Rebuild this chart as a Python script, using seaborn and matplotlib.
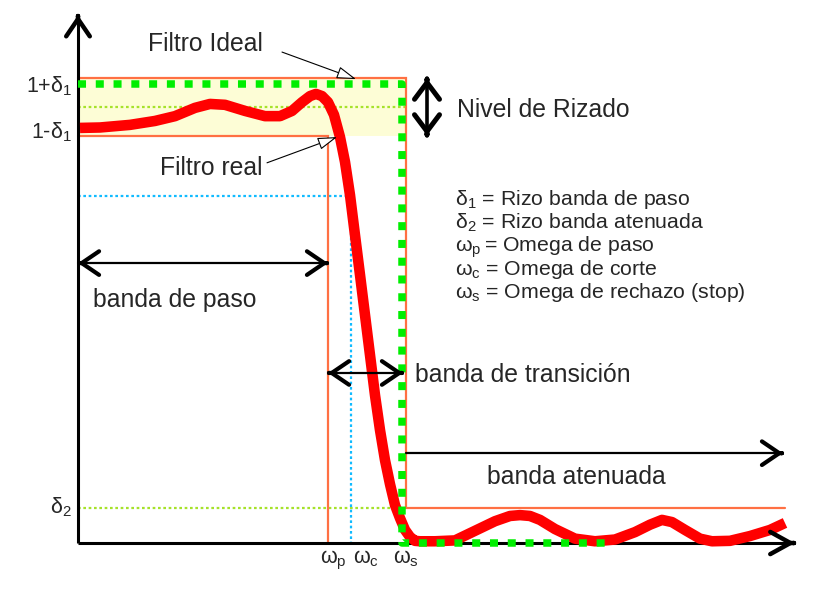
import matplotlib
matplotlib.use("Agg")
import matplotlib.pyplot as plt
import seaborn as sns
import pandas as pd

# ---------------- data (frequency in arbitrary units, magnitude normalised) ----------------
omega_real = [0.02, 0.22, 0.52, 0.77, 0.97, 1.17, 1.32, 1.47, 1.67, 1.87, 2.02, 2.14, 2.24,
              2.32, 2.38, 2.44, 2.50, 2.56, 2.62, 2.67, 2.72, 2.77, 2.82, 2.87, 2.92, 2.97,
              3.02, 3.07, 3.12, 3.17, 3.22, 3.27, 3.32, 3.37, 3.42, 3.57, 3.77, 3.97, 4.17,
              4.32, 4.42, 4.52, 4.62, 4.77, 4.97, 5.17, 5.37, 5.57, 5.72, 5.84, 5.94, 6.07,
              6.22, 6.34, 6.52, 6.72, 6.92, 7.07]
mag_real = [0.952, 0.953, 0.959, 0.968, 0.979, 0.998, 1.007, 1.005, 0.991, 0.979, 0.979, 0.991,
            1.011, 1.025, 1.030, 1.025, 1.011, 0.982, 0.931, 0.874, 0.798, 0.706, 0.615, 0.523,
            0.431, 0.339, 0.259, 0.190, 0.135, 0.087, 0.057, 0.030, 0.014, 0.005, 0.004, 0.004,
            0.006, 0.028, 0.050, 0.062, 0.064, 0.062, 0.053, 0.032, 0.010, 0.004, 0.008, 0.025,
            0.042, 0.053, 0.048, 0.030, 0.010, 0.004, 0.005, 0.016, 0.030, 0.046]

ideal_freq = [0.0, 3.235, 3.235, 5.29]
ideal_mag = [1.052, 1.052, 0.0, 0.0]

delta1 = 0.0655
delta2 = 0.080
omega_p = 2.50
omega_c = 2.73
omega_s = 3.28
mag_c = 0.796
freq_end = 7.17
mag_end = 1.211
stop_end = 7.07
ripple_x = 3.49

pass_arrow_y = 0.642
trans_arrow_y = 0.390
stop_arrow_y = 0.206

band_labels = ["banda de paso", "banda de transición", "banda atenuada"]
legend_lines = [r"$\delta_1$ = Rizo banda de paso",
                r"$\delta_2$ = Rizo banda atenuada",
                r"$\omega_p\,$= Omega de paso",
                r"$\omega_c$ = Omega de corte",
                r"$\omega_s$ = Omega de rechazo (stop)"]
y_labels = [r"1+$\delta_1$", r"1-$\delta_1$", r"$\delta_2$"]
x_labels = [r"$\omega_p$", r"$\omega_c$", r"$\omega_s$"]

# ---------------- style ----------------
sns.set_theme(style="white")
plt.rcParams["font.family"] = ["Liberation Sans", "DejaVu Sans"]
plt.rcParams["mathtext.default"] = "regular"

ORANGE = "#ff7043"
GREEN = "#00ee00"
LIME = "#a6e22a"
CYAN = "#11bbff"
BAND = "#fdfdd6"

fig = plt.figure(figsize=(8.2, 6.0), dpi=100)
ax = fig.add_axes([0, 0, 1, 1])
ax.set_xlim(-0.78, 7.42)
ax.set_ylim(-0.1307, 1.2454)
ax.axis("off")

up1 = 1 + delta1
lo1 = 1 - delta1

# ripple band
ax.fill_between([0, omega_s], [lo1, lo1], [up1, up1], color=BAND, lw=0, zorder=1)

# dotted reference lines
ax.plot([0, omega_s], [1.0, 1.0], color=LIME, lw=1.6, dashes=(1.2, 1.2), zorder=2)
ax.plot([0, omega_s], [delta2, delta2], color=LIME, lw=1.6, dashes=(1.2, 1.2), zorder=2)
ax.plot([0, omega_c, omega_c], [mag_c, mag_c, 0], color=CYAN, lw=1.6, dashes=(1.2, 1.2), zorder=2)

# tolerance template (orange)
ax.plot([0, omega_s, omega_s, stop_end], [up1, up1, delta2, delta2], color=ORANGE, lw=1.6,
        zorder=3, solid_joinstyle="miter")
ax.plot([0, omega_p, omega_p], [lo1, lo1, 0], color=ORANGE, lw=1.6, zorder=3,
        solid_joinstyle="miter")

# axes
ax.plot([0, 0], [0, mag_end], color="black", lw=2.2, zorder=4, solid_capstyle="butt")
ax.plot([0, freq_end], [0, 0], color="black", lw=2.2, zorder=4, solid_capstyle="butt")

# real filter
df = pd.DataFrame({"omega": omega_real, "mag": mag_real})
sns.lineplot(data=df, x="omega", y="mag", ax=ax, color="#ff0000", lw=7.6, zorder=5,
             estimator=None, sort=False, solid_capstyle="butt", solid_joinstyle="round")

# ideal filter
ax.plot(ideal_freq, ideal_mag, color=GREEN, lw=5.4, dashes=(1.07, 1.3), zorder=6,
        dash_capstyle="butt")


def head(tip, d, lw=3.3, hl=1.25, hw=0.85):
    ax.annotate("", xy=tip, xytext=(-d[0], -d[1]), textcoords="offset points",
                arrowprops=dict(arrowstyle=f"->,head_length={hl},head_width={hw}",
                                lw=lw, color="black", shrinkA=0, shrinkB=0,
                                mutation_scale=10), zorder=7)


# axis heads
head((0, mag_end), (0, 1), lw=3.2)
head((freq_end, 0), (1, 0), lw=3.2, hl=1.45, hw=0.8)

# band arrows
ax.plot([0, omega_p], [pass_arrow_y] * 2, color="black", lw=1.6, zorder=7)
head((0, pass_arrow_y), (-1, 0), lw=3.0)
head((omega_p, pass_arrow_y), (1, 0), lw=3.0)

ax.plot([omega_p, 3.25], [trans_arrow_y] * 2, color="black", lw=1.6, zorder=7)
head((omega_p, trans_arrow_y), (-1, 0), lw=3.0)
head((3.25, trans_arrow_y), (1, 0), lw=3.0)

ax.plot([omega_s, stop_end - 0.02], [stop_arrow_y] * 2, color="black", lw=1.6, zorder=7)
head((stop_end - 0.02, stop_arrow_y), (1, 0), lw=3.0)

ax.plot([ripple_x, ripple_x], [lo1, up1], color="black", lw=2.6, zorder=7)
head((ripple_x, up1), (0, 1), lw=3.6, hl=1.2, hw=0.9)
head((ripple_x, lo1), (0, -1), lw=3.6, hl=1.2, hw=0.9)

# annotation arrows
ann = dict(arrowstyle="-|>,head_length=1.2,head_width=0.38", lw=0.8, fc="white",
           ec="black", shrinkA=0, shrinkB=0, mutation_scale=10)
ax.annotate("", xy=(2.78, 1.064), xytext=(2.04, 1.126), arrowprops=ann, zorder=8)
ax.annotate("", xy=(2.59, 0.931), xytext=(1.89, 0.872), arrowprops=ann, zorder=8)

FS = 17.8
ax.text(0.70, 1.128, "Filtro Ideal", fontsize=FS, va="baseline", ha="left")
ax.text(0.82, 0.844, "Filtro real", fontsize=FS, va="baseline", ha="left")
ax.text(3.79, 0.977, "Nivel de Rizado", fontsize=FS, va="baseline", ha="left")

ax.text(0.15, 0.541, band_labels[0], fontsize=FS, va="baseline", ha="left")
ax.text(3.37, 0.369, band_labels[1], fontsize=FS, va="baseline", ha="left")
ax.text(4.09, 0.135, band_labels[2], fontsize=FS, va="baseline", ha="left")

for i, (line, yb) in enumerate(zip(legend_lines, [0.775, 0.722, 0.667, 0.615, 0.562])):
    ax.text(3.77, yb, line, fontsize=15.3, va="baseline", ha="left")

for lab, yb in zip(y_labels, [1.034, 0.929, 0.067]):
    ax.text(-0.06, yb, lab, fontsize=15.5, va="baseline", ha="right")

for lab, xl in zip(x_labels, [2.42, 2.75, 3.15]):
    ax.text(xl, -0.046, lab, fontsize=15.5, va="baseline", ha="left")

fig.savefig("out.png", dpi=100)
